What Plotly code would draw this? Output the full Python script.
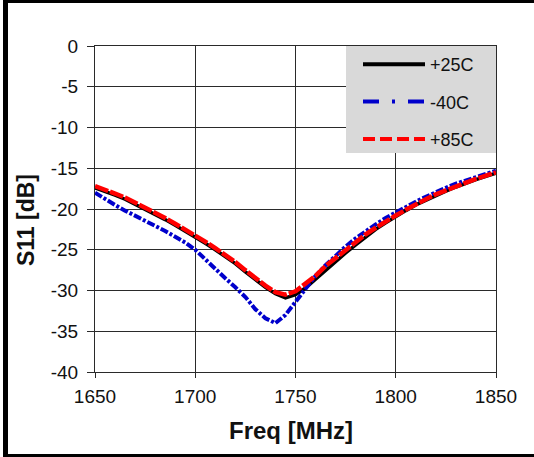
import plotly.graph_objects as go

# Frequency sweep (MHz) and return loss S11 (dB) at three temperatures
freq_mhz = [1650, 1655, 1660, 1665, 1670, 1675, 1680, 1685, 1690, 1695,
            1700, 1705, 1710, 1715, 1720, 1725, 1730, 1735, 1740, 1745,
            1750, 1755, 1760, 1765, 1770, 1775, 1780, 1785, 1790, 1795,
            1800, 1805, 1810, 1815, 1820, 1825, 1830, 1835, 1840, 1845, 1850]

s11_p25c = [-17.4, -17.8, -18.3, -18.8, -19.4, -20.0, -20.7, -21.3, -22.0, -22.7,
            -23.4, -24.2, -25.0, -25.8, -26.7, -27.7, -28.7, -29.6, -30.4, -30.9,
            -30.5, -29.7, -28.6, -27.5, -26.4, -25.4, -24.4, -23.4, -22.5, -21.7,
            -20.9, -20.2, -19.5, -18.9, -18.3, -17.8, -17.3, -16.8, -16.4, -16.0, -15.6]

s11_m40c = [-18.0, -18.8, -19.5, -20.2, -20.8, -21.4, -22.0, -22.7, -23.4, -24.1,
            -25.0, -26.2, -27.3, -28.5, -29.6, -30.8, -32.3, -33.4, -34.0, -33.0,
            -31.4, -29.8, -28.2, -26.9, -25.7, -24.6, -23.6, -22.7, -21.9, -21.1,
            -20.4, -19.7, -19.1, -18.5, -17.9, -17.4, -16.9, -16.5, -16.1, -15.7, -15.3]

s11_p85c = [-17.2, -17.6, -18.1, -18.6, -19.2, -19.9, -20.5, -21.1, -21.8, -22.5,
            -23.2, -24.0, -24.8, -25.6, -26.5, -27.5, -28.5, -29.4, -30.2, -30.5,
            -30.1, -29.2, -28.2, -27.0, -26.0, -25.0, -24.0, -23.1, -22.3, -21.5,
            -20.8, -20.1, -19.4, -18.8, -18.2, -17.7, -17.2, -16.7, -16.3, -15.9, -15.5]

series_names = ["+25C", "-40C", "+85C"]
series_colors = ["#000000", "#0000cc", "#ff0000"]

# axis ticks (plain hyphen for the minus sign)
x_tick_vals = [1650, 1700, 1750, 1800, 1850]
x_tick_text = ["1650", "1700", "1750", "1800", "1850"]
y_tick_vals = [0, -5, -10, -15, -20, -25, -30, -35, -40]
y_tick_text = ["0", "-5", "-10", "-15", "-20", "-25", "-30", "-35", "-40"]

x_title = "Freq [MHz]"
y_title = "S11 [dB]"

W, H = 534, 457
L, R, T, B = 95, 38, 46, 85
PW, PH = W - L - R, H - T - B


def px_x(p):
    return (p - L) / PW


def px_y(p):
    return (H - B - p) / PH


FONT = "Liberation Sans, Arial, sans-serif"
GRID = "#2a2a2a"

fig = go.Figure()

# measured curves (drawn black, blue, red so red sits on top)
fig.add_trace(go.Scatter(x=freq_mhz, y=s11_p25c, mode="lines", showlegend=False,
                         line=dict(color=series_colors[0], width=3.5)))
fig.add_trace(go.Scatter(x=freq_mhz, y=s11_m40c, mode="lines", showlegend=False,
                         line=dict(color=series_colors[1], width=4, dash="8px,2px,3px,2px")))
fig.add_trace(go.Scatter(x=freq_mhz, y=s11_p85c, mode="lines", showlegend=False,
                         line=dict(color=series_colors[2], width=4.5, dash="14px,2px")))

# legend keys
legend_dash = ["solid", "16px,13px,3px,13px", "12px,5px"]
for i, name in enumerate(series_names):
    fig.add_trace(go.Scatter(x=[None], y=[None], mode="lines", name=name,
                             legendgroup=name,
                             line=dict(color=series_colors[i], width=4, dash=legend_dash[i])))

shapes = [
    # legend panel
    dict(type="rect", xref="paper", yref="paper", x0=px_x(346), x1=1.0,
         y0=px_y(153), y1=1.0, fillcolor="#d9d9d9", line=dict(width=0), layer="above"),
    # outer frame
    dict(type="line", xref="paper", yref="paper", x0=px_x(5.5), x1=px_x(5.5),
         y0=px_y(0), y1=px_y(H), line=dict(color="black", width=5)),
    dict(type="line", xref="paper", yref="paper", x0=px_x(3), x1=px_x(W),
         y0=px_y(1.5), y1=px_y(1.5), line=dict(color="black", width=3)),
    dict(type="line", xref="paper", yref="paper", x0=px_x(3), x1=px_x(W),
         y0=px_y(455.5), y1=px_y(455.5), line=dict(color="black", width=3)),
]

annotations = [
    dict(text="<b>%s</b>" % x_title, xref="paper", yref="paper",
         x=px_x(291), y=px_y(430.5), xanchor="center", yanchor="middle",
         showarrow=False, font=dict(size=24, color="#111111")),
    dict(text="<b>%s</b>" % y_title, xref="paper", yref="paper", textangle=-90,
         x=px_x(26), y=px_y(220), xanchor="center", yanchor="middle",
         showarrow=False, font=dict(size=23, color="#111111")),
]

fig.update_layout(
    width=W, height=H, autosize=False,
    margin=dict(l=L, r=R, t=T, b=B, pad=0),
    paper_bgcolor="white", plot_bgcolor="white",
    font=dict(family=FONT, color="#111111", size=18),
    shapes=shapes,
    annotations=annotations,
    showlegend=True,
    legend=dict(x=px_x(358), y=1.0, xanchor="left", yanchor="top",
                bgcolor="rgba(0,0,0,0)", font=dict(size=18, color="#111111"),
                itemwidth=62, tracegroupgap=11, traceorder="grouped"),
    xaxis=dict(range=[1650, 1850], tickvals=x_tick_vals, ticktext=x_tick_text,
               showgrid=True, gridcolor=GRID, gridwidth=1,
               showline=True, linecolor=GRID, linewidth=1, mirror=True,
               ticks="outside", ticklen=5, tickcolor=GRID, ticklabelstandoff=2,
               zeroline=False, tickfont=dict(size=19)),
    yaxis=dict(range=[-40, 0], tickvals=y_tick_vals, ticktext=y_tick_text,
               showgrid=True, gridcolor=GRID, gridwidth=1,
               showline=True, linecolor=GRID, linewidth=1, mirror=True,
               ticks="outside", ticklen=7, tickcolor=GRID, ticklabelstandoff=5,
               zeroline=False, tickfont=dict(size=19)),
)

fig.write_html("out.html")
